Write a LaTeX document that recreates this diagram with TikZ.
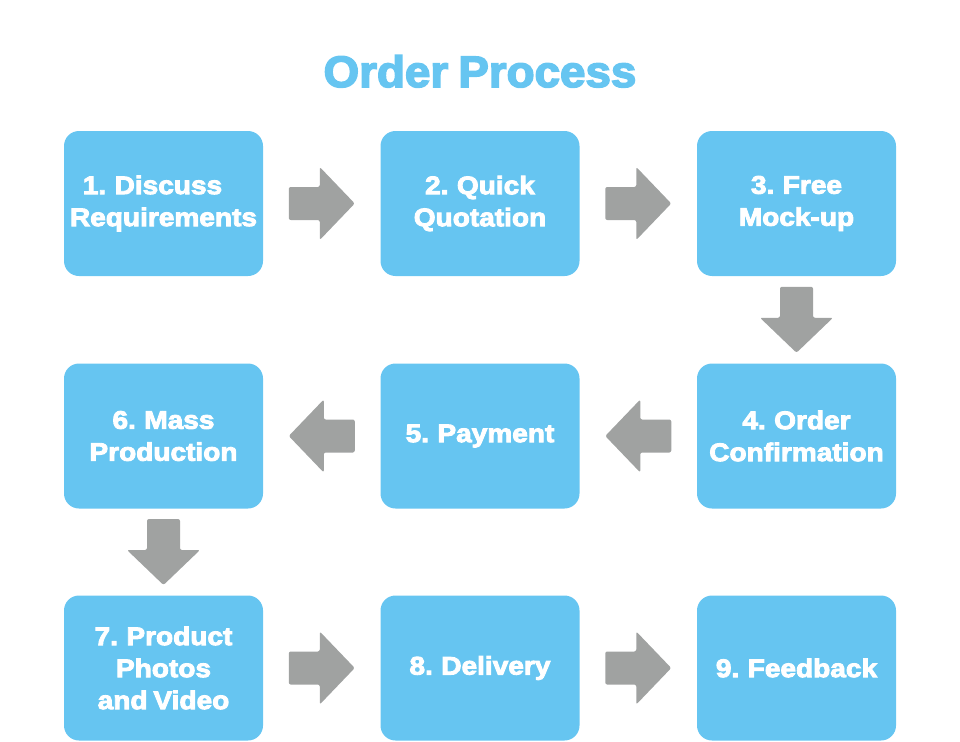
\documentclass[tikz,border=0pt]{standalone}
\usepackage{fontspec}
\usetikzlibrary{calc}
\newfontfamily\heavy{Liberation Sans Bold}[FakeBold=3.5,FakeStretch=1.1,WordSpace=0.75]
\newfontfamily\heavytitle{Liberation Sans Bold}[FakeBold=3.5,FakeStretch=1.04,WordSpace=0.8]
\definecolor{boxblue}{RGB}{102,197,241}
\definecolor{arrowgray}{RGB}{160,162,161}
\tikzset{
  x=1pt, y=-1pt,
  stepbox/.style={fill=boxblue, rounded corners=15pt, minimum width=199pt, minimum height=145pt,
    inner sep=0pt, text=white, align=center, font=\heavy\fontsize{25.5}{32}\selectfont},
  blockarrow/.pic={
    \fill[arrowgray, rounded corners=2pt] (-33,-16.5) -- (-2,-16.5) -- (-2,-36.5) -- (33,0)
      -- (-2,36.5) -- (-2,16.5) -- (-33,16.5) -- cycle;
  }
}
\begin{document}
\begin{tikzpicture}
\useasboundingbox (0,0) rectangle (960,741);
\node[text=boxblue, font=\heavytitle\fontsize{44}{50}\selectfont, anchor=base] (title) at (480,87) {Order Process};

\node[stepbox] (s1) at (163.5,203.5) {1. Discuss\hspace*{22pt}\\Requirements};
\node[stepbox] (s2) at (480,203.5) {2. Quick\\Quotation};
\node[stepbox] (s3) at (796.5,203.5) {3. Free\\Mock-up};
\node[stepbox] (s4) at (796.5,436) {4. Order\\Confirmation};
\node[stepbox] (s5) at (480,436) {5. Payment};
\node[stepbox] (s6) at (163.5,436) {6. Mass\\Production};
\node[stepbox] (s7) at (163.5,668) {7. Product\\Photos\\and Video};
\node[stepbox] (s8) at (480,668) {8. Delivery};
\node[stepbox] (s9) at (796.5,668) {9. Feedback};

\pic at ($(s1.east)!0.5!(s2.west)$) {blockarrow};
\pic at ($(s2.east)!0.5!(s3.west)$) {blockarrow};
\pic[rotate=-90] at ($(s3.south)!0.5!(s4.north)$) {blockarrow};
\pic[xscale=-1] at ($(s4.west)!0.5!(s5.east)$) {blockarrow};
\pic[xscale=-1] at ($(s5.west)!0.5!(s6.east)$) {blockarrow};
\pic[rotate=-90] at ($(s6.south)!0.5!(s7.north)$) {blockarrow};
\pic at ($(s7.east)!0.5!(s8.west)$) {blockarrow};
\pic at ($(s8.east)!0.5!(s9.west)$) {blockarrow};
\end{tikzpicture}
\end{document}
